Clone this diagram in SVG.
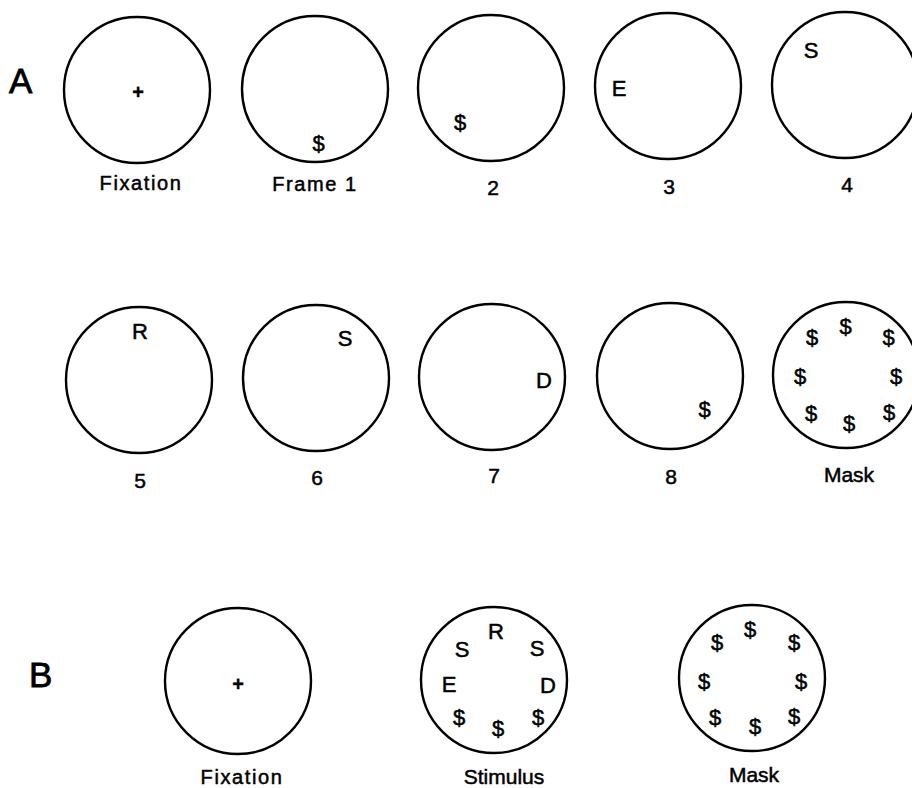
<svg xmlns="http://www.w3.org/2000/svg" width="912" height="788" viewBox="0 0 912 788">
<style>
  .c { fill: none; stroke: #000; stroke-width: 2.4; }
  text { font-family: "Liberation Sans", Arial, Helvetica, sans-serif; fill: #000; stroke: #000; stroke-width: 0.5; text-anchor: middle; }
  .lbl { font-size: 20px; letter-spacing: 1.6px; }
  .num { font-size: 21px; }
  .ch { font-size: 22px; }
  .d { font-size: 22px; }
  .plus { font-size: 20px; font-weight: bold; stroke-width: 0.3; }
  .panel { font-size: 35px; text-anchor: start; stroke-width: 0.8; }
</style>
<rect width="912" height="788" fill="#fff"/>

<text class="panel" x="9" y="93">A</text>
<text class="panel" x="29" y="687">B</text>

<g id="a-fixation">
  <circle class="c" cx="137" cy="90" r="73"/>
  <text class="plus" x="138" y="99">+</text>
  <text class="lbl" x="141" y="190">Fixation</text>
</g>
<g id="a-frame1">
  <circle class="c" cx="315" cy="89" r="73"/>
  <text class="d" x="318.5" y="151">$</text>
  <text class="lbl" x="315" y="191">Frame 1</text>
</g>
<g id="a-frame2">
  <circle class="c" cx="491" cy="88" r="73"/>
  <text class="d" x="460" y="130">$</text>
  <text class="num" x="493" y="195">2</text>
</g>
<g id="a-frame3">
  <circle class="c" cx="668" cy="86" r="73"/>
  <text class="ch" x="619" y="96">E</text>
  <text class="num" x="669" y="194">3</text>
</g>
<g id="a-frame4">
  <circle class="c" cx="845" cy="85" r="73"/>
  <text class="ch" x="811" y="58">S</text>
  <text class="num" x="847" y="192">4</text>
</g>

<g id="a-frame5">
  <circle class="c" cx="139" cy="380" r="73"/>
  <text class="ch" x="140" y="339">R</text>
  <text class="num" x="140" y="488">5</text>
</g>
<g id="a-frame6">
  <circle class="c" cx="316" cy="378" r="73"/>
  <text class="ch" x="345" y="346">S</text>
  <text class="num" x="317" y="485">6</text>
</g>
<g id="a-frame7">
  <circle class="c" cx="492" cy="377" r="73"/>
  <text class="ch" x="544" y="388">D</text>
  <text class="num" x="494" y="483">7</text>
</g>
<g id="a-frame8">
  <circle class="c" cx="670" cy="376" r="73"/>
  <text class="d" x="704.5" y="417">$</text>
  <text class="num" x="671" y="484">8</text>
</g>
<g id="a-mask">
  <circle class="c" cx="846" cy="375" r="73"/>
  <text class="d" x="845.5" y="334">$</text>
  <text class="d" x="812" y="345">$</text>
  <text class="d" x="888.5" y="345">$</text>
  <text class="d" x="800" y="384">$</text>
  <text class="d" x="896" y="384">$</text>
  <text class="d" x="811" y="421">$</text>
  <text class="d" x="849" y="431">$</text>
  <text class="d" x="889" y="420">$</text>
  <text class="num" x="849" y="482">Mask</text>
</g>

<g id="b-fixation">
  <circle class="c" cx="238" cy="681" r="73"/>
  <text class="plus" x="238" y="691">+</text>
  <text class="lbl" x="242" y="784">Fixation</text>
</g>
<g id="b-stimulus">
  <circle class="c" cx="494" cy="680" r="73"/>
  <text class="ch" x="496" y="639">R</text>
  <text class="ch" x="537" y="656">S</text>
  <text class="ch" x="548" y="693">D</text>
  <text class="d" x="538" y="725">$</text>
  <text class="d" x="498" y="736">$</text>
  <text class="d" x="459" y="725">$</text>
  <text class="ch" x="449" y="692">E</text>
  <text class="ch" x="462" y="657">S</text>
  <text class="num" x="504" y="784">Stimulus</text>
</g>
<g id="b-mask">
  <circle class="c" cx="752" cy="678" r="73"/>
  <text class="d" x="750" y="637">$</text>
  <text class="d" x="717" y="650">$</text>
  <text class="d" x="794" y="650">$</text>
  <text class="d" x="704" y="689">$</text>
  <text class="d" x="801" y="689">$</text>
  <text class="d" x="715" y="725">$</text>
  <text class="d" x="755" y="734">$</text>
  <text class="d" x="794" y="724">$</text>
  <text class="num" x="754" y="782">Mask</text>
</g>
</svg>
